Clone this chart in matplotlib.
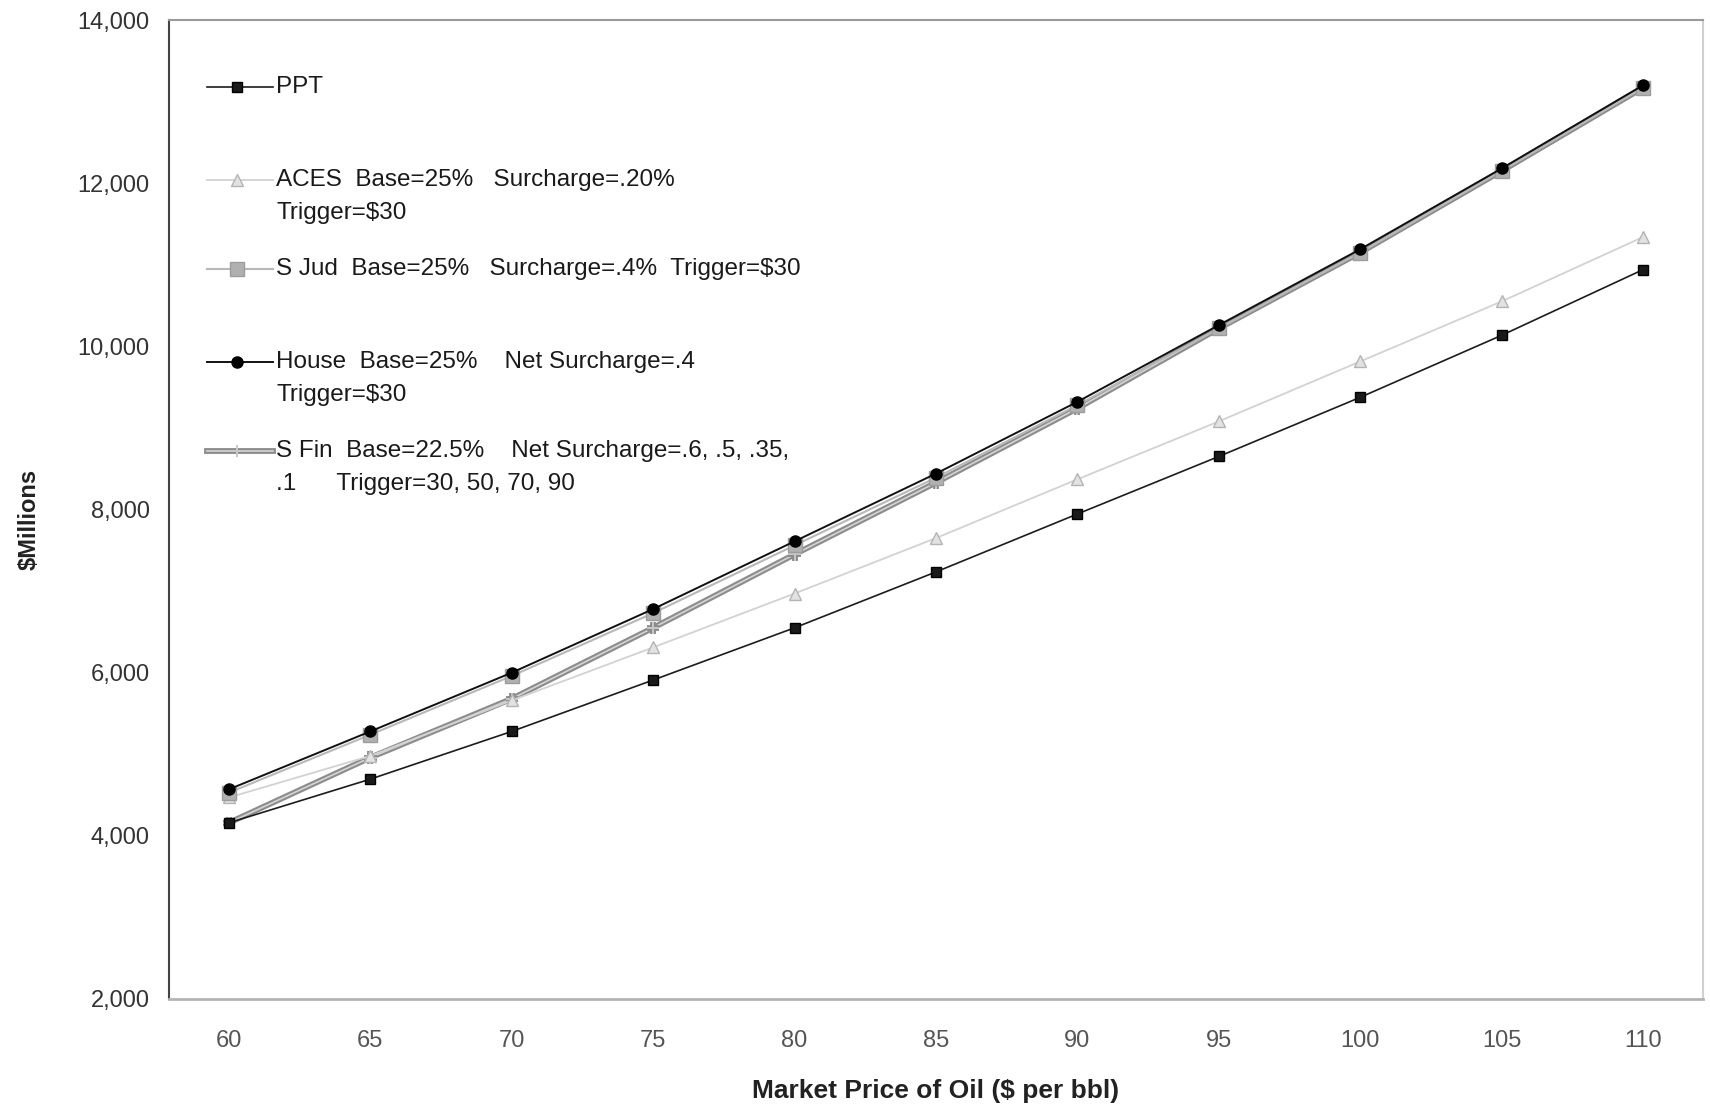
import matplotlib.pyplot as plt
import matplotlib.patheffects as pe
from matplotlib.lines import Line2D

# Oil price scenarios ($ per bbl) and state revenue ($ millions) per tax plan
price = [60, 65, 70, 75, 80, 85, 90, 95, 100, 105, 110]
ppt = [4160, 4695, 5280, 5910, 6550, 7235, 7945, 8650, 9375, 10135, 10940]
aces = [4470, 4980, 5660, 6310, 6970, 7650, 8370, 9080, 9815, 10550, 11340]
s_jud = [4530, 5240, 5960, 6730, 7560, 8390, 9280, 10220, 11150, 12150, 13170]
house = [4570, 5280, 6000, 6780, 7610, 8440, 9320, 10260, 11190, 12180, 13200]
s_fin = [4160, 4960, 5680, 6550, 7450, 8330, 9240, 10220, 11150, 12150, 13170]

legend_text = [
    ["PPT"],
    ["ACES  Base=25%   Surcharge=.20%", "Trigger=$30"],
    ["S Jud  Base=25%   Surcharge=.4%  Trigger=$30"],
    ["House  Base=25%    Net Surcharge=.4", "Trigger=$30"],
    ["S Fin  Base=22.5%    Net Surcharge=.6, .5, .35,", ".1      Trigger=30, 50, 70, 90"],
]

plt.rcParams['font.family'] = ['Liberation Sans', 'DejaVu Sans']

fig = plt.figure(figsize=(17.1, 11.11), dpi=100)
ax = fig.add_axes([169 / 1710, 1 - 999 / 1111, 1534 / 1710, 979 / 1111])

sfin_fx = [pe.Stroke(linewidth=4.2, foreground='#8c8c8c'), pe.Normal()]

styles = [
    dict(color='#1c1c1c', lw=1.2, marker='s', ms=7, mfc='#1a1a1a', mec='#000000', zorder=4),
    dict(color='#d2d2d2', lw=1.3, marker='^', ms=8, mfc='#e2e2e2', mec='#b4b4b4', zorder=3),
    dict(color='#b8b8b8', lw=1.5, marker='s', ms=10, mfc='#b0b0b0', mec='#9c9c9c', zorder=3),
    dict(color='#111111', lw=1.4, marker='o', ms=8, mfc='#000000', mec='#000000', zorder=5),
    dict(color='#d4d4d4', lw=1.2, marker='+', ms=9, mew=1.4, mfc='#c8c8c8', mec='#c8c8c8',
         zorder=2, path_effects=sfin_fx),
]
series = [ppt, aces, s_jud, house, s_fin]

for vals, st in zip(series, styles):
    ax.plot(price, vals, **st)

ax.set_xlim(57.88, 112.12)
ax.set_ylim(2000, 14000)
ax.set_xticks(price)
ax.set_yticks(range(2000, 14001, 2000))
ax.set_yticklabels([f"{v:,}" for v in range(2000, 14001, 2000)])
ax.tick_params(axis='both', length=0)
ax.tick_params(axis='y', pad=14, labelsize=17, labelcolor='#333333')
ax.tick_params(axis='x', pad=22, labelsize=17, labelcolor='#555555')

ax.spines['left'].set_color('#444444')
ax.spines['left'].set_linewidth(1.5)
ax.spines['top'].set_color('#9a9a9a')
ax.spines['top'].set_linewidth(1.5)
ax.spines['right'].set_color('#d0d0d0')
ax.spines['right'].set_linewidth(1.5)
ax.spines['bottom'].set_color('#b4b4b4')
ax.spines['bottom'].set_linewidth(2)

ax.set_xlabel('Market Price of Oil ($ per bbl)', fontsize=19, fontweight='bold',
              color='#222222', va='center')
ax.xaxis.set_label_coords(0.5, -0.094)
ax.set_ylabel('$Millions', fontsize=17, fontweight='bold', color='#222222', va='center')
ax.yaxis.set_label_coords(-0.091, 0.49)

# hand-placed legend, one slot per plan (axes fraction coords)
leg_y = [0.9316, 0.8366, 0.7457, 0.6507, 0.5598]
line_gap = 33 / 979
for y, lines, st in zip(leg_y, legend_text, styles):
    h = Line2D([0.0248, 0.0678], [y, y], transform=ax.transAxes, color=st['color'],
               lw=st['lw'], zorder=st['zorder'], path_effects=st.get('path_effects'))
    ax.add_line(h)
    m = Line2D([0.0443], [y], transform=ax.transAxes, linestyle='none', marker=st['marker'],
               ms=st['ms'], mfc=st['mfc'], mec=st['mec'],
               mew=st.get('mew', 1.0), zorder=st['zorder'] + 1)
    ax.add_line(m)
    for i, txt in enumerate(lines):
        ax.text(0.0698, y - i * line_gap, txt, transform=ax.transAxes, fontsize=17.5,
                va='center', ha='left', color='#1a1a1a')

fig.savefig('out.png', dpi=100, facecolor='white')
